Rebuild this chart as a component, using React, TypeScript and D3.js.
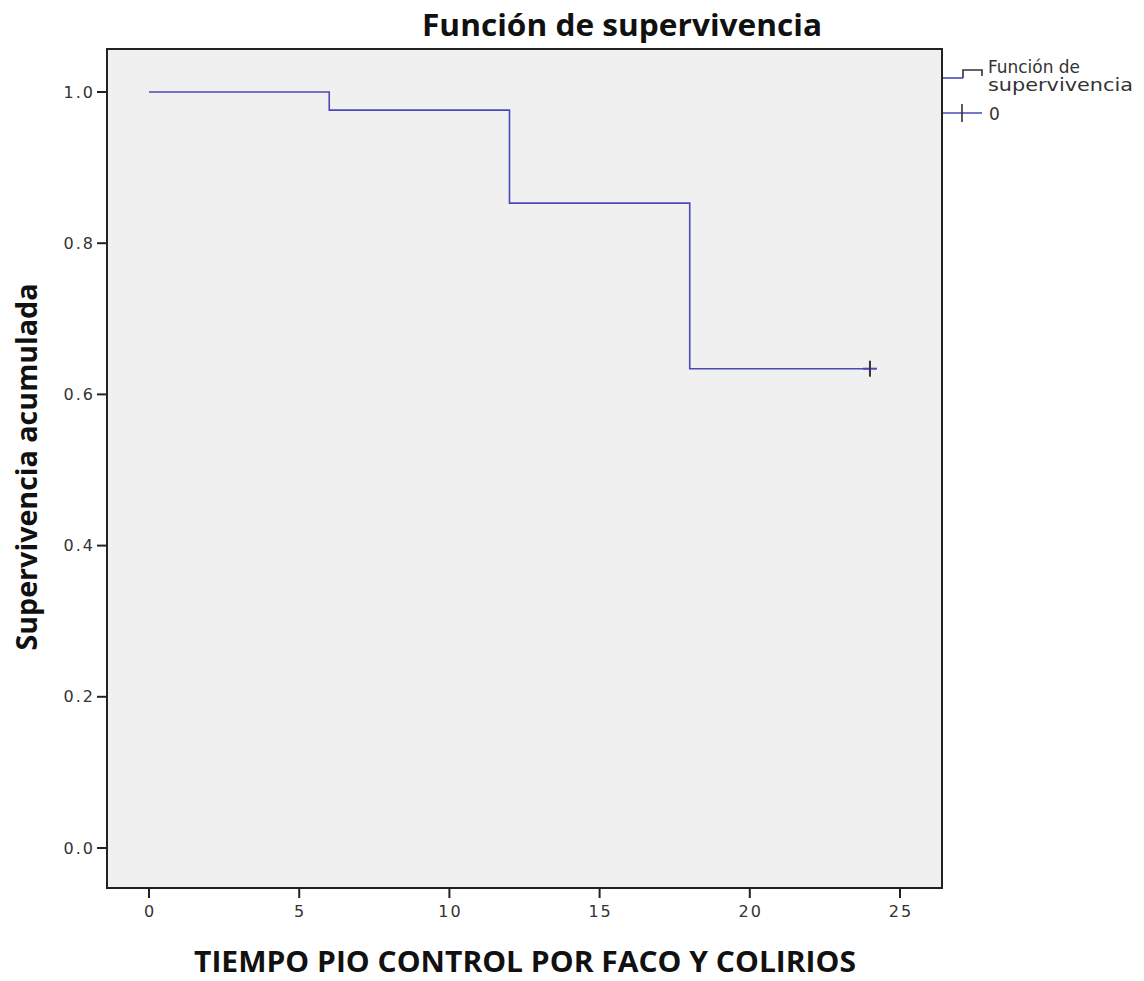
import React from "react";
import * as d3 from "d3";

const times = [0, 6, 12, 18, 24];
const survival = [1.0, 0.976, 0.853, 0.634, 0.634];
const censorTimes = [24];
const censorValues = [0.634];
const xTicks = [0, 5, 10, 15, 20, 25];
const yTicks = [0.0, 0.2, 0.4, 0.6, 0.8, 1.0];
const legendLabels = ["Función de", "supervivencia", "0"];

const W = 1144;
const H = 981;
const frame = { left: 107, right: 942, top: 49, bottom: 888 };

export default function App() {
  const x = d3.scaleLinear().domain([0, 25]).range([149, 900]);
  const y = d3.scaleLinear().domain([0, 1]).range([848, 92]);
  const pts: [number, number][] = times.map((t, i) => [t, survival[i]]);
  const line = d3
    .line<[number, number]>()
    .x((d) => x(d[0]))
    .y((d) => y(d[1]))
    .curve(d3.curveStepAfter);
  const tickFont = "'DejaVu Sans', Verdana, sans-serif";
  const titleFont = "'Open Sans', 'Noto Sans', sans-serif";
  const lineColor = "#4b48b8";
  return (
    <svg
      width={W}
      height={H}
      style={{ position: "absolute", left: 0, top: 0, background: "#fff" }}
    >
      <rect
        x={frame.left}
        y={frame.top}
        width={frame.right - frame.left}
        height={frame.bottom - frame.top}
        fill="#f0f0f0"
        stroke="#222"
        strokeWidth={2}
      />
      <path d={line(pts) || ""} fill="none" stroke={lineColor} strokeWidth={1.6} />
      {censorTimes.map((t, i) => (
        <g key={i} strokeWidth={2}>
          <line x1={x(t) - 7} x2={x(t) + 7} y1={y(censorValues[i])} y2={y(censorValues[i])} stroke={lineColor} />
          <line x1={x(t)} x2={x(t)} y1={y(censorValues[i]) - 8} y2={y(censorValues[i]) + 8} stroke="#333" />
        </g>
      ))}
      {yTicks.map((v) => (
        <g key={v}>
          <line x1={frame.left - 10} x2={frame.left} y1={y(v)} y2={y(v)} stroke="#222" strokeWidth={2} />
          <text
            x={frame.left - 12}
            y={y(v)}
            dy="0.35em"
            textAnchor="end"
            fontFamily={tickFont}
            fontSize={16}
            letterSpacing={2}
            fill="#333"
          >
            {v.toFixed(1)}
          </text>
        </g>
      ))}
      {xTicks.map((v) => (
        <g key={v}>
          <line x1={x(v)} x2={x(v)} y1={frame.bottom} y2={frame.bottom + 10} stroke="#222" strokeWidth={2} />
          <text
            x={x(v) + 1}
            y={frame.bottom + 29}
            textAnchor="middle"
            fontFamily={tickFont}
            fontSize={16}
            letterSpacing={2}
            fill="#333"
          >
            {v}
          </text>
        </g>
      ))}
      <text
        x={622}
        y={36}
        textAnchor="middle"
        fontFamily={titleFont}
        fontWeight="bold"
        fontSize={30}
        fill="#111"
        textLength={400}
        lengthAdjust="spacingAndGlyphs"
      >
        Función de supervivencia
      </text>
      <text
        x={525}
        y={972}
        textAnchor="middle"
        fontFamily={titleFont}
        fontWeight="bold"
        fontSize={28}
        fill="#111"
        textLength={662}
        lengthAdjust="spacingAndGlyphs"
      >
        TIEMPO PIO CONTROL POR FACO Y COLIRIOS
      </text>
      <text
        transform={`translate(37, 467) rotate(-90)`}
        textAnchor="middle"
        fontFamily={titleFont}
        fontWeight="bold"
        fontSize={29}
        fill="#111"
        textLength={367}
        lengthAdjust="spacingAndGlyphs"
      >
        Supervivencia acumulada
      </text>
      {/* legend */}
      <line x1={943} x2={963} y1={78} y2={78} stroke={lineColor} strokeWidth={1.6} />
      <path d="M963,78 V70 H982 V76" fill="none" stroke="#333" strokeWidth={1.6} />
      <line x1={943} x2={982} y1={113} y2={113} stroke={lineColor} strokeWidth={1.6} />
      <line x1={962} x2={962} y1={104} y2={122} stroke="#333" strokeWidth={1.6} />
      <text x={988} y={73} fontFamily={tickFont} fontSize={17} fill="#333" textLength={92} lengthAdjust="spacingAndGlyphs">
        {legendLabels[0]}
      </text>
      <text x={988} y={91} fontFamily={tickFont} fontSize={17} fill="#333" textLength={145} lengthAdjust="spacingAndGlyphs">
        {legendLabels[1]}
      </text>
      <text x={989} y={120} fontFamily={tickFont} fontSize={17} fill="#333">
        {legendLabels[2]}
      </text>
    </svg>
  );
}
